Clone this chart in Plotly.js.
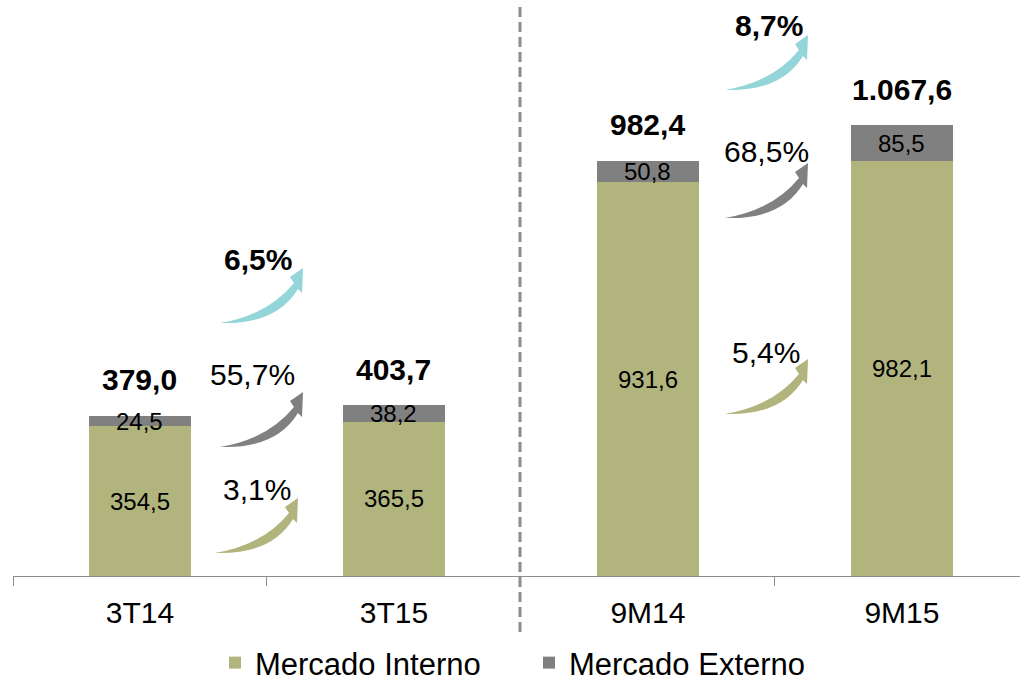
<!DOCTYPE html>
<html>
<head>
<meta charset="utf-8">
<script src="https://cdn.plot.ly/plotly-3.0.1.min.js"></script>
<style>
  html, body { margin: 0; padding: 0; background: #fff; }
  #chart { width: 1020px; height: 684px; }
</style>
</head>
<body>
<div id="chart"></div>
<script>
const categories = ['3T14', '3T15', '9M14', '9M15'];
const mercadoInterno = [354.5, 365.5, 931.6, 982.1];
const mercadoExterno = [24.5, 38.2, 50.8, 85.5];
const totals = [379.0, 403.7, 982.4, 1067.6];

// growth between each pair (3T14 -> 3T15, 9M14 -> 9M15)
const growthTotal = ['6,5%', '8,7%'];
const growthExterno = ['55,7%', '68,5%'];
const growthInterno = ['3,1%', '5,4%'];

const GREEN = '#B1B57D';
const GRAY = '#808080';
const TEAL = '#93D5D9';
const FONT = 'Liberation Sans, Arial, sans-serif';

const W = 1020, H = 684;
const ML = 13, MR = 0, MT = 0, MB = 108;
const PW = W - ML - MR, PH = H - MT - MB;

// pixel -> paper helpers for the decorations
const px = X => (X - ML) / PW;
const py = Y => (MT + PH - Y) / PH;

const fmt = v => {
    let [i, d] = v.toFixed(1).split('.');
    i = i.replace(/\B(?=(\d{3})+(?!\d))/g, '.');
    return i + ',' + d;
};

// curved arrow, tail at (tx, ty) in pixels
const arrowPath = (tx, ty) => {
    const p = (dx, dy) => px(tx + dx).toFixed(4) + ',' + py(ty + dy).toFixed(4);
    return 'M' + p(0, 0) + ' Q' + p(48, -8) + ' ' + p(74, -40) +
        ' L' + p(70, -46) + ' L' + p(83, -55) + ' L' + p(82, -30) + ' L' + p(78, -34) +
        ' Q' + p(56, 2) + ' ' + p(0, 0) + ' Z';
};

const data = [
    {
        type: 'bar',
        name: 'Mercado Interno',
        x: categories,
        y: mercadoInterno,
        marker: { color: GREEN },
        hoverinfo: 'skip'
    },
    {
        type: 'bar',
        name: 'Mercado Externo',
        x: categories,
        y: mercadoExterno,
        marker: { color: GRAY },
        hoverinfo: 'skip'
    }
];

const annotations = [];
categories.forEach((c, i) => {
    annotations.push({
        x: c, y: mercadoInterno[i] / 2, text: fmt(mercadoInterno[i]),
        showarrow: false, font: { family: FONT, size: 24, color: '#000' }
    });
    annotations.push({
        x: c, y: mercadoInterno[i] + mercadoExterno[i] / 2, text: fmt(mercadoExterno[i]),
        showarrow: false, font: { family: FONT, size: 24, color: '#000' }
    });
    annotations.push({
        x: c, y: totals[i], yshift: 36, text: '<b>' + fmt(totals[i]) + '</b>',
        showarrow: false, font: { family: FONT, size: 30, color: '#000' }
    });
});

// label centre and arrow tail, in pixels, for each pair
const groups = [
    { labels: growthTotal, bold: true, color: TEAL, lab: [[258, 259], [769, 26]], tail: [[220, 323], [725, 90]] },
    { labels: growthExterno, bold: false, color: GRAY, lab: [[252, 374], [766, 151]], tail: [[220, 447], [725, 218]] },
    { labels: growthInterno, bold: false, color: GREEN, lab: [[257, 489], [766, 352]], tail: [[215, 553], [725, 414]] }
];

const shapes = [
    {
        type: 'line', xref: 'paper', yref: 'paper',
        x0: px(520), x1: px(520), y0: py(7), y1: py(640),
        line: { color: '#8C8C8C', width: 3, dash: '10px,5px' },
        layer: 'above'
    }
];

groups.forEach(g => {
    g.labels.forEach((t, k) => {
        annotations.push({
            xref: 'paper', yref: 'paper',
            x: px(g.lab[k][0]), y: py(g.lab[k][1]),
            xanchor: 'center', yanchor: 'middle',
            text: g.bold ? '<b>' + t + '</b>' : t,
            showarrow: false, font: { family: FONT, size: 30, color: '#000' }
        });
        shapes.push({
            type: 'path', xref: 'paper', yref: 'paper',
            path: arrowPath(g.tail[k][0], g.tail[k][1]),
            fillcolor: g.color, line: { width: 0 }
        });
    });
});

const layout = {
    width: W,
    height: H,
    margin: { l: ML, r: MR, t: MT, b: MB, autoexpand: false },
    paper_bgcolor: '#fff',
    plot_bgcolor: '#fff',
    barmode: 'stack',
    bargap: 0.6,
    showlegend: true,
    font: { family: FONT, color: '#000' },
    xaxis: {
        type: 'category',
        range: [-0.5, 3.465],
        showline: true,
        linecolor: '#8C8C8C',
        linewidth: 1,
        ticks: 'outside',
        tickson: 'boundaries',
        ticklen: 9,
        tickcolor: '#8C8C8C',
        ticklabelstandoff: 10,
        tickfont: { family: FONT, size: 30, color: '#000' },
        showgrid: false,
        zeroline: false,
        fixedrange: true
    },
    yaxis: {
        visible: false,
        range: [0, 1363.5],
        showgrid: false,
        zeroline: false,
        fixedrange: true
    },
    legend: {
        orientation: 'h',
        traceorder: 'normal',
        x: 0.5124,
        xanchor: 'center',
        y: -0.151,
        yanchor: 'middle',
        font: { family: FONT, size: 31, color: '#000' },
        entrywidth: 269
    },
    annotations,
    shapes
};

Plotly.newPlot('chart', data, layout, { displayModeBar: false, staticPlot: true });
</script>
</body>
</html>
